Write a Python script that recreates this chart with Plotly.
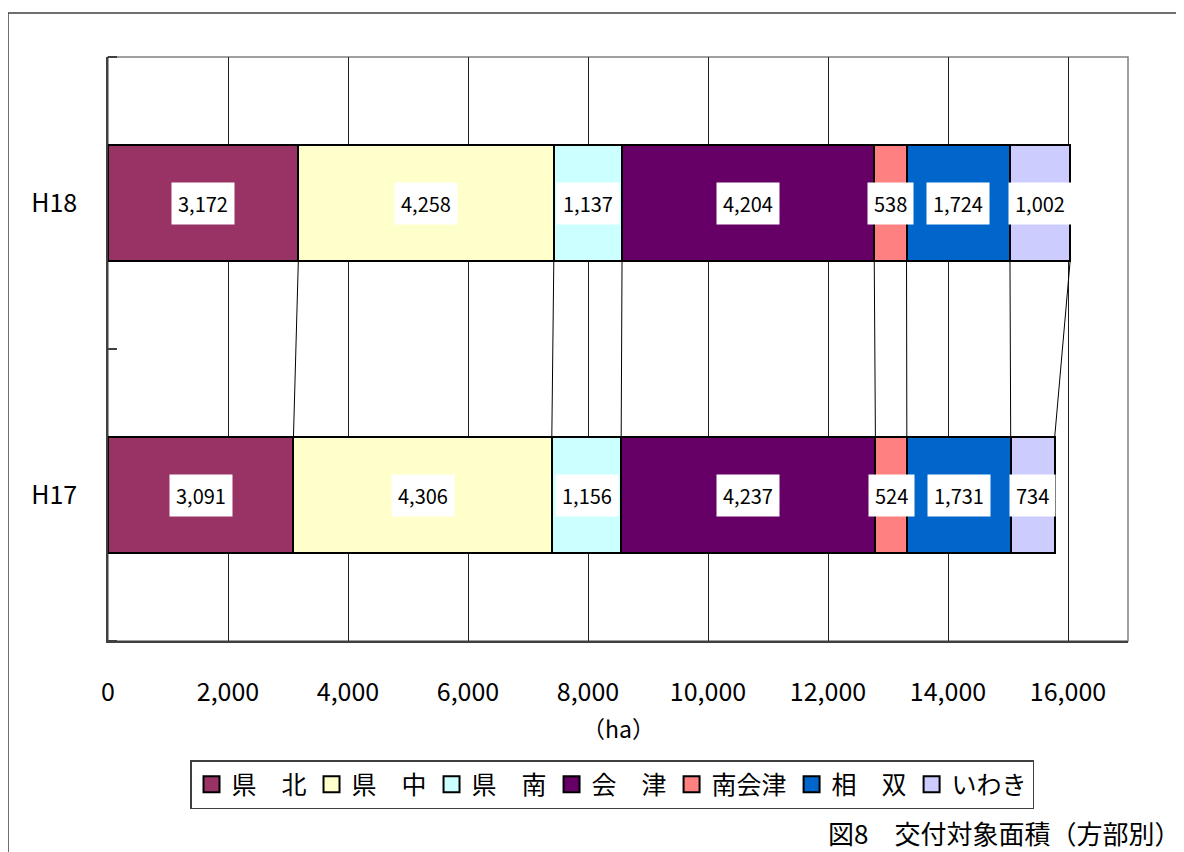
import plotly.graph_objects as go

categories = ["H17", "H18"]
series_names = ["県　北", "県　中", "県　南", "会　津", "南会津", "相　双", "いわき"]
h17_values = [3091, 4306, 1156, 4237, 524, 1731, 734]
h18_values = [3172, 4258, 1137, 4204, 538, 1724, 1002]
colors = ["#993366", "#FFFFCC", "#CCFFFF", "#660066", "#FF8080", "#0066CC", "#CCCCFF"]
x_ticks = [0, 2000, 4000, 6000, 8000, 10000, 12000, 14000, 16000]
x_ticklabels = ["0", "2,000", "4,000", "6,000", "8,000", "10,000", "12,000", "14,000", "16,000"]
chart_title = "図8　交付対象面積（方部別）"
x_unit = "（ha）"

FONT = "Noto Sans CJK JP"
OFF = 8  # page body margin
W, H = 1176, 844
L, T = 108 - OFF, 57 - OFF
R = W - (1128 - OFF)
B = H - (641 - OFF)
pw, ph = W - L - R, H - T - B
BAR_W = 0.4


def px(x):
    return (x - OFF - L) / pw


def py(y):
    return (H - B - (y - OFF)) / ph


fig = go.Figure()
ypos = [0, 1]
for i, name in enumerate(series_names):
    fig.add_trace(go.Bar(
        y=ypos, x=[h17_values[i], h18_values[i]], name=name, orientation="h",
        width=BAR_W, legendgroup=name, showlegend=False,
        marker=dict(color=colors[i], line=dict(color="black", width=2)),
    ))

cum17, cum18 = 0, 0
annotations = []
for i in range(len(series_names)):
    s17, s18 = cum17, cum18
    cum17 += h17_values[i]
    cum18 += h18_values[i]
    fig.add_trace(go.Scatter(
        x=[cum17, cum18], y=[BAR_W / 2, 1 - BAR_W / 2], mode="lines",
        line=dict(color="black", width=1), showlegend=False, hoverinfo="skip",
    ))
    for y, s, v in ((0, s17, h17_values[i]), (1, s18, h18_values[i])):
        annotations.append(dict(
            x=s + v / 2, y=y, xref="x", yref="y", text=f"{v:,}", showarrow=False,
            font=dict(family=FONT, size=20, color="black"),
            bgcolor="white", borderpad=6,
        ))

# legend entries with larger square symbols
for i, name in enumerate(series_names):
    fig.add_trace(go.Scatter(
        x=[None], y=[None], mode="markers", name=name, legendgroup=name,
        marker=dict(symbol="square", size=16, color=colors[i],
                    line=dict(color="black", width=2)),
    ))

annotations.append(dict(
    x=px(618), y=py(728), xref="paper", yref="paper",
    text=x_unit, showarrow=False, font=dict(family=FONT, size=23, color="black"),
    xanchor="center", yanchor="middle",
))
annotations.append(dict(
    x=px(1182), y=py(832), xref="paper", yref="paper",
    text=chart_title, showarrow=False, font=dict(family=FONT, size=26, color="black"),
    xanchor="right", yanchor="middle",
))

shapes = [
    dict(type="rect", xref="paper", yref="paper",
         x0=px(8), x1=px(1200), y0=py(880), y1=py(13),
         line=dict(color="#404040", width=1.5), fillcolor="rgba(0,0,0,0)", layer="below"),
    dict(type="rect", xref="paper", yref="paper", x0=0, x1=1, y0=0, y1=1,
         line=dict(color="#808080", width=1.5), fillcolor="rgba(0,0,0,0)", layer="below"),
]

fig.update_layout(
    width=W, height=H, barmode="stack",
    margin=dict(l=L, r=R, t=T, b=B),
    paper_bgcolor="white", plot_bgcolor="white",
    font=dict(family=FONT, color="black"),
    showlegend=True,
    legend=dict(
        orientation="h", x=px(612), xanchor="center", y=py(760), yanchor="top",
        bordercolor="#404040", borderwidth=1.5, bgcolor="white",
        font=dict(family=FONT, size=25, color="black"), traceorder="normal",
        itemwidth=30, itemsizing="trace",
    ),
    xaxis=dict(
        range=[0, 17000], tickvals=x_ticks, ticktext=x_ticklabels,
        showgrid=True, gridcolor="#202020", gridwidth=1,
        showline=True, linecolor="#404040", linewidth=1.5,
        zeroline=False, ticks="", ticklabelstandoff=28,
        tickfont=dict(family=FONT, size=25, color="black"),
    ),
    yaxis=dict(
        range=[-0.5, 1.5], tickvals=ypos, ticktext=categories,
        showgrid=False, zeroline=False,
        showline=True, linecolor="#404040", linewidth=1.5,
        ticks="", ticklabelstandoff=24,
        tickfont=dict(family=FONT, size=25, color="black"),
        minor=dict(tickvals=[-0.5, 0.5, 1.5], ticks="inside", ticklen=9,
                   tickcolor="#404040", tickwidth=1.5, showgrid=False),
    ),
    annotations=annotations, shapes=shapes,
)

fig.write_html("out.html")
